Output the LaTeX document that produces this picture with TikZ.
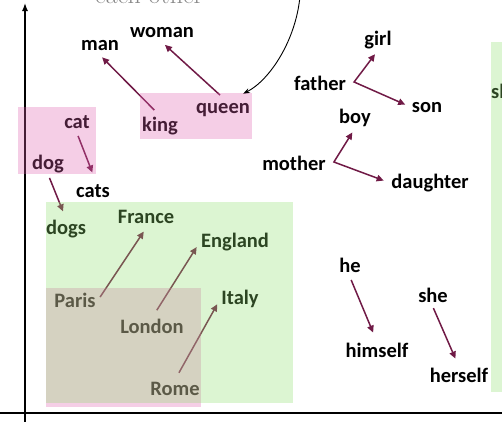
\documentclass[tikz,border=0pt]{standalone}
\usepackage{fontspec}
\newfontfamily\calibfont{Carlito}
\usetikzlibrary{arrows.meta}
\definecolor{vecred}{RGB}{112,26,70}
\definecolor{boxpink}{RGB}{223,96,175}
\definecolor{boxgreen}{RGB}{143,223,111}
\definecolor{notegray}{RGB}{135,135,135}

\begin{document}
\begin{tikzpicture}[x=1pt,y=-1pt,
			wd/.style={font=\calibfont\bfseries\fontsize{20.5}{24}\selectfont, text height=14pt, text depth=4pt, inner sep=1pt, anchor=base},
			vec/.style={vecred, line width=1.5pt, -{Triangle[length=7pt,width=6.5pt]}},
			vv/.style={vecred, line width=1.5pt, {Triangle[length=7pt,width=6.5pt]}-{Triangle[length=7pt,width=6.5pt]}},
			ax/.style={black, line width=1.3pt},
			pinkbox/.style={fill=boxpink, fill opacity=0.31},
			greenbox/.style={fill=boxgreen, fill opacity=0.31}]

			\useasboundingbox (0,0) rectangle (502,421);
			\clip (0,0) rectangle (502,421);

			% drawing axes
			\coordinate (ybot) at (25,428);
			\coordinate (ytop) at (25,3);
			\coordinate (xleft) at (-4,413);
			\coordinate (xright) at (506,413);
			\draw[ax, -{Latex[length=8pt,width=6pt]}] (ybot) -- (ytop);
			\draw[ax] (xleft) -- (xright);

			% note on top
			\node[font=\fontsize{26}{30}\selectfont, text=notegray, anchor=base west, inner sep=0pt] (eachother) at (95,3.5) {each other};

			% drawing words
			\node[wd] (man) at (100,50) {man};
			\node[wd] (woman) at (162,37) {woman};
			\node[wd] (king) at (160,131) {king};
			\node[wd] (queen) at (223,113) {queen};
			\node[wd] (cat) at (77,128) {cat};
			\node[wd] (dog) at (48,169) {dog};
			\node[wd] (cats) at (93,197) {cats};
			\node[wd] (dogs) at (66,234) {dogs};
			\node[wd] (france) at (146,223) {France};
			\node[wd] (england) at (235,247) {England};
			\node[wd] (paris) at (75,307) {Paris};
			\node[wd] (london) at (152,333) {London};
			\node[wd] (italy) at (240,304) {Italy};
			\node[wd] (rome) at (175,395) {Rome};
			\node[wd] (girl) at (378,45) {girl};
			\node[wd] (father) at (320,90) {father};
			\node[wd] (son) at (427,112) {son};
			\node[wd] (boy) at (355,123) {boy};
			\node[wd] (mother) at (294,170) {mother};
			\node[wd] (daughter) at (430,188) {daughter};
			\node[wd] (he) at (350,272) {he};
			\node[wd] (she) at (433,302) {she};
			\node[wd] (himself) at (377,357) {himself};
			\node[wd] (herself) at (459,382) {herself};
			\node[wd, anchor=base west] (slow) at (490,98) {slow};

			% drawing vectors
			\draw[vec, shorten <=8pt, shorten >=3pt] (king.north) -- (man.south);
			\draw[vec, shorten <=4pt, shorten >=4pt] (queen.north) -- (woman.south);
			\draw[vec, shorten <=3pt, shorten >=10pt] (cat.south) -- ([xshift=3pt]cats.north);
			\draw[vec, shorten <=4pt, shorten >=8pt] (dog.south) -- (dogs.north);
			\draw[vec, shorten <=6pt, shorten >=4pt] (paris.east) -- (france.south);
			\draw[vec, shorten <=9pt, shorten >=6pt] (london.north) -- (england.west);
			\draw[vec, shorten <=8pt, shorten >=6pt] (rome.north) -- (italy.west);
			\draw[vv, shorten <=5pt, shorten >=6pt] (girl.south) -- ([xshift=7pt,yshift=3pt]father.east) -- (son.west);
			\draw[vv, shorten <=5pt, shorten >=7pt] (boy.south) -- ([xshift=7pt,yshift=3pt]mother.east) -- (daughter.west);
			\draw[vec, shorten <=3pt, shorten >=10pt] (he.south) -- (himself.north);
			\draw[vec, shorten <=1pt, shorten >=9pt] (she.south) -- (herself.north);

			% drawing curved arrow
			\coordinate (curvestart) at (300,-4);
			\draw[black, line width=0.9pt, -{Stealth[length=7pt,width=5pt]}] (curvestart) .. controls (296,40) and (270,80) .. ([xshift=-8pt,yshift=4pt]queen.north east);

			% pink boxes
			\fill[pinkbox] (18,107) rectangle (96,174);
			\fill[pinkbox] (140,93) rectangle (252,139);
			\fill[pinkbox] (46,288) rectangle (201,407);

			% green boxes
			\fill[greenbox] (46,202) rectangle (293,403);
			\fill[greenbox] (491,42) rectangle (510,392);

		\end{tikzpicture}
\end{document}
